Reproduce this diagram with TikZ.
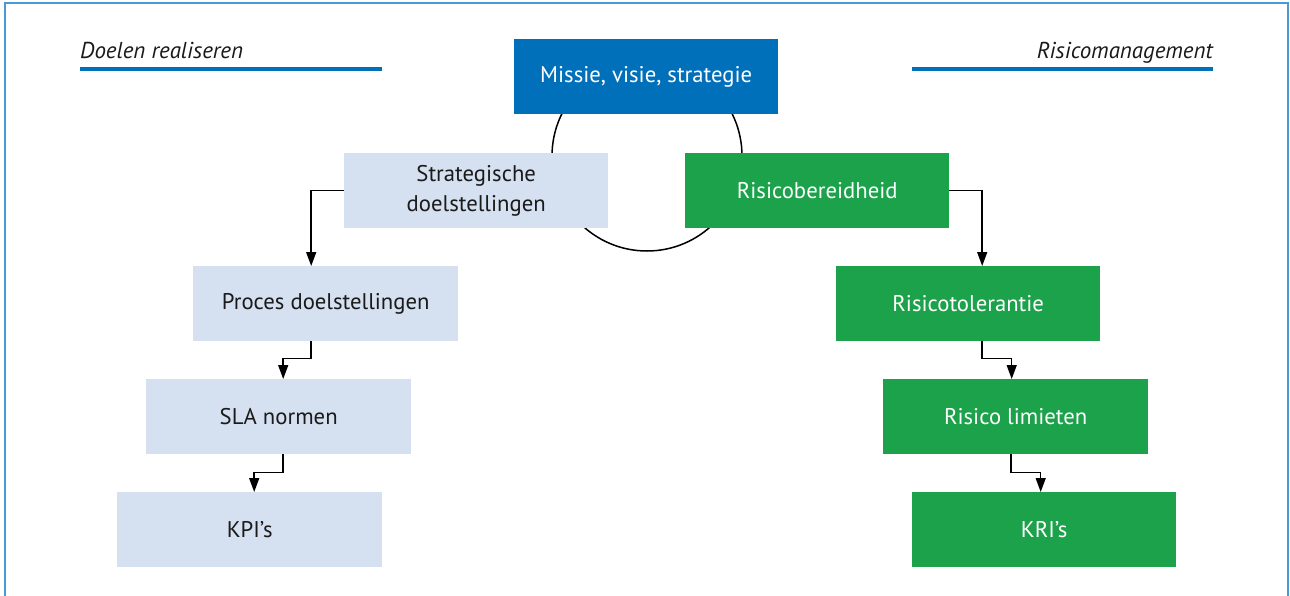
\documentclass[tikz,border=0pt]{standalone}
\usepackage{fontspec}
\setmainfont{PT Sans}
\usetikzlibrary{arrows.meta}
\definecolor{mblue}{HTML}{0070BA}
\definecolor{lblue}{HTML}{D5E0F0}
\definecolor{mgreen}{HTML}{1BA24A}
\definecolor{frame}{HTML}{4A9AD6}
\definecolor{txt}{HTML}{1A1A1A}
\begin{document}
\begin{tikzpicture}[x=1pt,y=-1pt,
  box/.style={minimum width=265pt, minimum height=75pt, inner sep=0pt, anchor=north west, align=center, font=\fontsize{22.7}{29.5}\selectfont},
  lbox/.style={box, fill=lblue, text=txt},
  gbox/.style={box, fill=mgreen, text=white},
  bbox/.style={box, fill=mblue, text=white},
  arr/.style={draw=black, line width=1.5pt, -{Triangle[width=10pt,length=14pt]}},
  hdr/.style={font=\fontsize{23}{26}\selectfont\itshape, text=txt, inner sep=0pt},
  hline/.style={draw=mblue, line width=4pt}]
\useasboundingbox (0,0) rectangle (1290,596);
\draw[frame, line width=2pt] (5,600) -- (5,3) -- (1288,3) -- (1288,600);
% headers
\node[hdr, anchor=base west] (hl) at (80,59) {Doelen realiseren};
\node[hdr, anchor=base east] (hr) at (1213,59) {Risicomanagement};
\coordinate (hla) at (80,69); \coordinate (hlb) at (382,69);
\coordinate (hra) at (912,69); \coordinate (hrb) at (1213,69);
\draw[hline] (hla) -- (hlb);
\draw[hline] (hra) -- (hrb);
% circle
\coordinate (cc) at (647,156);
\draw[black, line width=1.5pt] (cc) circle[radius=95pt];
% boxes
\node[bbox, minimum width=264pt] (mis) at (514,39) {Missie, visie, strategie};
\node[lbox, minimum width=264pt] (strat) at (344,153) {Strategische\\doelstellingen};
\node[gbox, minimum width=264pt] (risb) at (685,153) {Risicobereidheid};
\node[lbox] (proc) at (193,266) {Proces doelstellingen};
\node[gbox, minimum width=264pt] (risto) at (836,266) {Risicotolerantie};
\node[lbox] (sla) at (146,379) {SLA normen};
\node[gbox] (rlim) at (883,379) {Risico limieten};
\node[lbox] (kpi) at (117,492) {KPI’s};
\node[gbox, minimum width=264pt] (kri) at (912,492) {KRI’s};
% connectors
\draw[arr] (strat.west) -| ([xshift=-14.5pt]proc.north);
\draw[arr] ([xshift=-14.5pt]proc.south) -- ++(0,17) -| ([xshift=4.5pt]sla.north);
\draw[arr] ([xshift=4.5pt]sla.south) -- ++(0,18) -| ([xshift=4.5pt]kpi.north);
\draw[arr] (risb.east) -| ([xshift=14pt]risto.north);
\draw[arr] ([xshift=14pt]risto.south) -- ++(0,17) -| ([xshift=-4pt]rlim.north);
\draw[arr] ([xshift=-4.5pt]rlim.south) -- ++(0,18) -| ([xshift=-3.5pt]kri.north);
\end{tikzpicture}
\end{document}
